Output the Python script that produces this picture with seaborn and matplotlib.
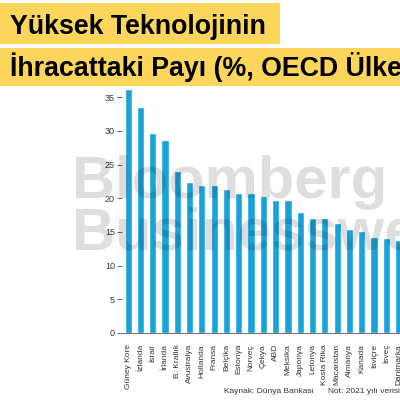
import matplotlib
matplotlib.use("Agg")
import matplotlib.pyplot as plt
import seaborn as sns
import pandas as pd
from matplotlib.patches import Rectangle

countries = ["Güney Kore", "İzlanda", "İsrail", "İrlanda", "B. Krallık", "Avustralya",
             "Hollanda", "Fransa", "Belçika", "Estonya", "Norveç", "Çekya", "ABD",
             "Meksika", "Japonya", "Letonya", "Kosta Rika", "Macaristan", "Almanya",
             "Kanada", "İsviçre", "İsveç", "Danimarka"]
values = [36.2, 33.5, 29.7, 28.6, 24.0, 22.4, 22.0, 22.0, 21.3, 20.7, 20.7, 20.4, 19.8,
          19.8, 18.0, 17.1, 17.1, 16.3, 15.4, 15.1, 14.3, 14.1, 13.8]
yticks = [0, 5, 10, 15, 20, 25, 30, 35]

title1 = "Yüksek Teknolojinin"
title2 = "İhracattaki Payı (%, OECD Ülkeleri)"
source = "Kaynak: Dünya Bankası"
note = "Not: 2021 yılı verisi ile hesaplanmıştır"

sns.set_theme(style="white")
plt.rcParams['font.family'] = ['Liberation Sans', 'DejaVu Sans']

df = pd.DataFrame({"country": countries, "value": values})

fig = plt.figure(figsize=(4, 4), dpi=100)
W, H = 400.0, 400.0
# axes: left 122px, right 417px, top 87px, bottom 333px
ax = fig.add_axes([122 / W, (H - 333) / H, (417 - 122) / W, (333 - 87) / H])

sns.barplot(data=df, x="country", y="value", color="#1AA3DB", width=0.58,
            saturation=1, ax=ax, zorder=2)
ax.set_xlim(-0.5, 23.5)
ax.set_ylim(0, 36.5)
ax.set_yticks(yticks)
ax.set_xlabel("")
ax.set_ylabel("")
for s in ["top", "right", "left"]:
    ax.spines[s].set_visible(False)
ax.spines["bottom"].set_color("#777777")
ax.spines["bottom"].set_linewidth(0.8)
ax.tick_params(axis="y", left=True, length=3.5, width=0.7, color="#666666",
               labelsize=6.5, labelcolor="#333333", pad=1.5)
ax.tick_params(axis="x", bottom=False, labelsize=6.0, labelcolor="#333333", pad=2)
plt.setp(ax.get_xticklabels(), rotation=90)

# watermark
fig.text(72 / W, (H - 198) / H, "Bloomberg", fontsize=43, fontweight="bold",
         color="black", alpha=0.13, ha="left", va="baseline", zorder=5)
fig.text(72 / W, (H - 250) / H, "Businessweek", fontsize=43, fontweight="bold",
         color="black", alpha=0.13, ha="left", va="baseline", zorder=5)

# title boxes
yellow = "#FBD65B"
fig.patches.append(Rectangle((0, (H - 44) / H), 280 / W, 41 / H, transform=fig.transFigure,
                             facecolor=yellow, edgecolor="none", zorder=0))
fig.patches.append(Rectangle((0, (H - 86) / H), 1.0, 38 / H, transform=fig.transFigure,
                             facecolor=yellow, edgecolor="none", zorder=0))
fig.text(10 / W, (H - 34) / H, title1, fontsize=19.3, fontweight="bold", color="black",
         ha="left", va="baseline")
fig.text(10 / W, (H - 76) / H, title2, fontsize=19.3, fontweight="bold", color="black",
         ha="left", va="baseline")

# footer
fig.text(224 / W, (H - 393) / H, source, fontsize=6, color="#333333", ha="left", va="baseline")
fig.text(328 / W, (H - 393) / H, note, fontsize=6, color="#333333", ha="left", va="baseline")

fig.savefig("out.png", dpi=100)
